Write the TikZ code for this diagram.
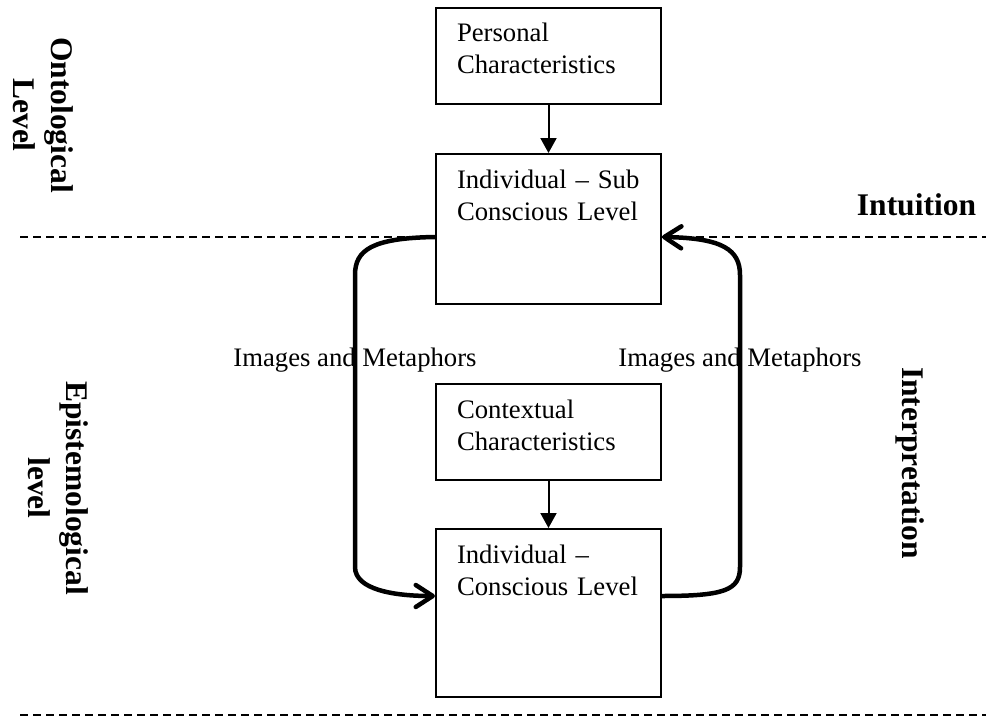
\documentclass[tikz,border=0pt]{standalone}
\usepackage{fontspec}
\setmainfont{Liberation Serif}
\usetikzlibrary{positioning,arrows.meta}
\begin{document}
\begin{tikzpicture}
[x=1pt, y=-1pt,
stagebox/.style={draw, fill=white, line width=2pt, text width=183pt, inner xsep=21pt, inner ysep=0pt, align=left, text height=34pt, font=\fontsize{26.7pt}{32pt}\selectfont},
thinarrow/.style={line width=2pt, -{Triangle[length=15pt, width=16pt]}},
cycarrow/.style={line width=4.5pt, -{Straight Barb[length=17pt, width=22pt, round]}},
dashline/.style={line width=2pt, dash pattern=on 8pt off 5pt},
lbl/.style={font=\fontsize{26.7pt}{32pt}\selectfont},
levelname/.style={font=\fontsize{31.5pt}{38pt}\selectfont\bfseries, align=center}]
\useasboundingbox (0,0) rectangle (986,717);
\coordinate (upper) at (0,237);
\coordinate (lower) at (0,596);
\draw [dashline] (20,237) -- (986,237);
\draw [dashline] (20,715) -- (986,715);
\node [stagebox, text depth=62pt] (pers) at (548.5,56) {Personal\\Characteristics};
\node [stagebox, text depth=116pt, below=48pt of pers] (sub) {Individual -- Sub\\Conscious Level};
\node [stagebox, text depth=62pt, below=78pt of sub] (ctx) {Contextual\\Characteristics};
\node [stagebox, text depth=134pt, below=47pt of ctx] (cons) {Individual --\\Conscious Level};
\draw [thinarrow] (pers) -- (sub);
\draw [thinarrow] (ctx) -- (cons);
\draw [cycarrow] (sub.west |- upper) .. controls (372,238) and (355,250) .. (355,275) -- node [lbl, pos=0.29] (imgl) {Images and Metaphors} (355,567) .. controls (355,590) and (395,596) .. (cons.west |- lower);
\draw [cycarrow] (cons.east |- lower) .. controls (725,596) and (740,590) .. (740,567) -- node [lbl, pos=0.71] (imgr) {Images and Metaphors} (740,275) .. controls (740,250) and (723,238) .. (sub.east |- upper);
\node [levelname, rotate=-90] (onto) at (43,115) {Ontological\\Level};
\node [levelname, rotate=-90] (epis) at (58,488) {Epistemological\\level};
\node [levelname, rotate=-90] (interp) at (910,463) {Interpretation};
\node [levelname] (intu) at (916.5,204.5) {Intuition};
\end{tikzpicture}
\end{document}
